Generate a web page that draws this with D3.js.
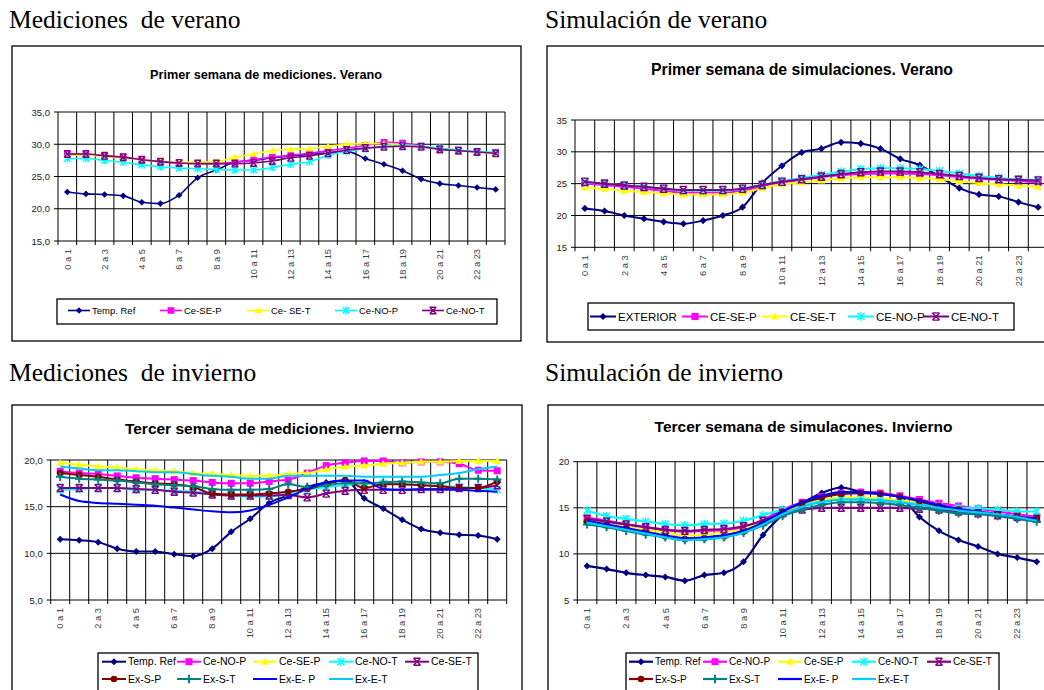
<!DOCTYPE html>
<html><head><meta charset="utf-8">
<script src="https://cdn.jsdelivr.net/npm/d3@7"></script>
<style>body{margin:0;background:#fff}svg{display:block}</style>
</head><body>
<svg id="c" width="1044" height="690"></svg>
<script>
// ---------- DATA ----------
const hours = ["0 a 1","1 a 2","2 a 3","3 a 4","4 a 5","5 a 6","6 a 7","7 a 8","8 a 9","9 a 10","10 a 11","11 a 12",
  "12 a 13","13 a 14","14 a 15","15 a 16","16 a 17","17 a 18","18 a 19","19 a 20","20 a 21","21 a 22","22 a 23","23 a 24"];
const shownHours = hours.filter((h, i) => i % 2 === 0);

const headers = ["Mediciones  de verano", "Simulación de verano", "Mediciones  de invierno", "Simulación de invierno"];
const titles = ["Primer semana de mediciones. Verano", "Primer semana de simulaciones. Verano",
  "Tercer semana de mediciones. Invierno", "Tercer semana de simulacones. Invierno"];

const ticksVerano = [15, 20, 25, 30, 35];
const ticksInvierno = [5, 10, 15, 20];

// Panel 1: mediciones verano
const p1Names = ["Temp. Ref", "Ce-SE-P", "Ce- SE-T", "Ce-NO-P", "Ce-NO-T"];
const p1TempRef = [22.6,22.3,22.2,22.0,21.0,20.8,22.1,24.8,26.0,27.2,27.5,27.9,28.2,28.4,28.7,28.9,27.8,26.9,25.9,24.6,23.9,23.6,23.3,23.0];
const p1CeSEP   = [28.5,28.4,28.2,28.0,27.6,27.3,27.1,27.0,27.0,27.2,27.6,28.0,28.3,28.6,29.0,29.4,29.8,30.3,30.2,29.7,29.3,29.1,28.8,28.6];
const p1CeSET   = [28.3,28.3,28.1,27.9,27.6,27.3,27.2,27.2,27.3,28.0,28.5,29.0,29.2,29.3,29.7,30.0,30.1,30.1,29.9,29.7,29.4,29.1,28.8,28.5];
const p1CeNOP   = [27.8,27.8,27.5,27.2,26.8,26.5,26.3,26.2,26.1,26.0,26.0,26.4,26.9,27.3,28.3,28.9,29.3,29.7,29.8,29.7,29.4,29.1,28.9,28.7];
const p1CeNOT   = [28.5,28.5,28.2,28.0,27.6,27.3,27.1,27.0,27.0,27.0,27.1,27.4,27.9,28.2,28.6,29.1,29.4,29.6,29.7,29.6,29.2,29.0,28.8,28.6];

// Panel 2: simulación verano
const p2Names = ["EXTERIOR", "CE-SE-P", "CE-SE-T", "CE-NO-P", "CE-NO-T"];
const p2Exterior = [21.1,20.7,20.0,19.5,19.0,18.7,19.2,20.0,21.3,25.1,27.8,29.9,30.5,31.5,31.3,30.5,28.9,27.9,26.1,24.3,23.3,23.0,22.1,21.3];
const p2CeSEP    = [25.0,24.8,24.5,24.2,23.9,23.6,23.6,23.6,23.9,24.6,25.2,25.6,26.0,26.3,26.5,26.6,26.6,26.5,26.3,26.0,25.8,25.6,25.4,25.2];
const p2CeSET    = [24.4,24.2,23.9,23.7,23.5,23.3,23.3,23.3,23.6,24.3,24.9,25.2,25.5,25.8,26.0,26.0,26.0,25.9,25.7,25.4,25.1,24.9,24.7,24.5];
const p2CeNOP    = [25.2,25.0,24.7,24.5,24.2,23.9,23.9,23.9,24.2,24.8,25.4,25.9,26.4,26.9,27.3,27.4,27.4,27.3,27.0,26.6,26.2,25.9,25.7,25.6];
const p2CeNOT    = [25.3,25.0,24.7,24.5,24.2,24.0,24.0,24.0,24.2,24.8,25.3,25.7,26.1,26.5,26.8,26.9,26.9,26.8,26.5,26.2,25.9,25.7,25.6,25.5];

// Panel 3: mediciones invierno
const p3Names = ["Temp. Ref", "Ce-NO-P", "Ce-SE-P", "Ce-NO-T", "Ce-SE-T", "Ex-S-P", "Ex-S-T", "Ex-E- P", "Ex-E-T"];
const p3TempRef = [11.5,11.4,11.2,10.5,10.2,10.2,9.9,9.7,10.5,12.3,13.7,15.4,16.2,17.1,17.6,17.8,15.9,14.8,13.6,12.6,12.2,12.0,11.9,11.5];
const p3CeNOP   = [18.8,18.6,18.5,18.3,18.1,18.0,17.9,17.8,17.6,17.5,17.5,17.7,17.9,18.6,19.4,19.7,19.9,19.9,19.7,19.8,19.8,19.6,18.9,18.85];
const p3CeSEP   = [19.7,19.5,19.3,19.2,19.0,18.9,18.8,18.6,18.5,18.4,18.3,18.3,18.5,18.6,19.0,19.3,19.4,19.6,19.7,19.8,19.8,19.9,19.9,19.9];
const p3CeNOT   = [16.8,16.9,17.0,17.0,16.8,16.8,16.7,16.6,16.4,16.2,16.1,16.1,16.4,16.8,17.1,17.3,17.5,17.5,17.4,17.3,17.2,17.1,17.0,16.8];
const p3CeSET   = [17.0,17.0,17.0,17.0,16.9,16.8,16.6,16.5,16.3,16.2,16.2,16.2,16.25,16.0,16.4,16.7,16.8,16.8,16.8,16.9,16.9,17.0,17.0,17.3];
const p3ExSP    = [18.6,18.4,18.2,17.9,17.7,17.5,17.4,17.1,16.4,16.3,16.3,16.4,16.6,16.9,17.4,17.85,17.0,17.4,17.4,17.3,17.2,17.0,17.0,17.7];
const p3ExST    = [18.2,18.0,17.9,17.8,17.6,17.4,17.3,17.2,16.9,16.8,16.8,16.9,17.4,17.1,17.3,17.5,17.5,17.6,17.7,17.6,17.5,18.0,18.0,17.9];
const p3ExEP    = [16.3,15.6,15.4,15.3,15.2,15.1,14.9,14.7,14.5,14.4,14.6,15.2,16.0,16.9,17.6,17.8,17.8,16.9,16.8,16.8,16.8,16.8,16.7,16.6];
const p3ExET    = [19.3,19.1,18.9,18.9,18.8,18.7,18.7,18.5,18.3,18.2,18.0,18.0,18.3,18.3,18.3,18.3,18.2,18.2,18.2,18.2,18.4,18.6,19.0,19.3];

// Panel 4: simulación invierno
const p4Names = ["Temp. Ref", "Ce-NO-P", "Ce-SE-P", "Ce-NO-T", "Ce-SE-T", "Ex-S-P", "Ex-S-T", "Ex-E- P", "Ex-E-T"];
const p4TempRef = [8.7,8.35,7.95,7.7,7.5,7.1,7.7,7.95,9.15,12.05,14.2,15.5,16.6,17.2,16.75,16.6,16.2,14.0,12.5,11.5,10.8,10.0,9.6,9.15];
const p4CeNOP   = [13.9,13.6,13.2,12.9,12.6,12.4,12.5,12.6,12.9,13.7,14.8,15.6,16.2,16.6,16.7,16.6,16.3,15.9,15.5,15.2,14.9,14.6,14.3,14.0];
const p4CeSEP   = [13.6,13.3,12.9,12.6,12.3,12.0,12.1,12.3,12.7,13.5,14.5,15.3,15.8,16.1,16.1,16.0,15.8,15.5,15.2,14.9,14.6,14.3,14.0,13.8];
const p4CeNOT   = [14.7,14.1,13.8,13.5,13.25,13.1,13.25,13.3,13.6,14.2,14.8,15.3,15.7,15.9,15.9,15.8,15.6,15.4,15.2,15.0,14.95,14.8,14.6,14.6];
const p4CeSET   = [13.8,13.5,13.2,12.9,12.6,12.5,12.6,12.7,13.0,13.6,14.4,14.8,15.0,15.0,15.0,15.0,15.0,14.9,14.8,14.6,14.4,14.2,14.0,13.8];
const p4ExSP    = [13.5,13.1,12.7,12.3,11.9,11.6,11.7,11.9,12.4,13.3,14.6,15.5,16.1,16.5,16.6,16.5,16.2,15.7,15.2,14.8,14.5,14.3,14.0,13.8];
const p4ExST    = [13.2,12.9,12.5,12.1,11.8,11.5,11.6,11.8,12.3,13.1,14.1,14.8,15.3,15.6,15.6,15.5,15.3,15.0,14.7,14.4,14.3,14.1,13.8,13.5];
const p4ExEP    = [13.6,13.2,12.8,12.4,12.0,11.7,11.8,12.0,12.5,13.4,14.6,15.6,16.3,16.7,16.7,16.5,16.2,15.8,15.3,14.9,14.6,14.3,14.0,13.8];
const p4ExET    = [13.4,13.0,12.6,12.2,11.8,11.5,11.6,11.8,12.3,13.2,14.3,15.1,15.6,15.9,15.9,15.8,15.6,15.3,15.0,14.7,14.5,14.3,14.0,13.6];

// ---------- STYLES ----------
const st5 = [
  {color:"#000080", marker:"diamond"},
  {color:"#FF00FF", marker:"square"},
  {color:"#FFFF00", marker:"triangle"},
  {color:"#00FFFF", marker:"star"},
  {color:"#800080", marker:"xbar"}
];
const st9 = [
  {color:"#000080", marker:"diamond"},
  {color:"#FF00FF", marker:"square"},
  {color:"#FFFF00", marker:"triangle"},
  {color:"#00FFFF", marker:"star"},
  {color:"#800080", marker:"xbar"},
  {color:"#800000", marker:"circle"},
  {color:"#008080", marker:"plus"},
  {color:"#0000FF", marker:null},
  {color:"#00CCFF", marker:null}
];

const panels = [
  { box:[12,46,509,295], plot:[58,505,112,241], domain:[15,35], ticks:ticksVerano, fmt:d=>d.toFixed(1).replace(".",","),
    title:titles[0], titleX:266, titleY:78.5, titleSize:12.7, header:headers[0], hx:9, hy:28,
    names:p1Names, series:[p1TempRef,p1CeSEP,p1CeSET,p1CeNOP,p1CeNOT], styles:st5, lw:1.6, ms:3.3,
    legendBox:[57,299,440,25], legendFont:9.5, legendItems:[[68,310.5],[160,310.5],[247,310.5],[335,310.5],[422,310.5]], legLine:22 },
  { box:[547,46,520,296], plot:[575,1048,120,247.3], domain:[15,35], ticks:ticksVerano, fmt:d=>String(d),
    title:titles[1], titleX:802, titleY:75, titleSize:15.8, header:headers[1], hx:545, hy:28,
    names:p2Names, series:[p2Exterior,p2CeSEP,p2CeSET,p2CeNOP,p2CeNOT], styles:st5, lw:2, ms:3.6,
    legendBox:[588,303,426,27], legendFont:11.5, legendItems:[[590,316.5],[682,316.5],[762,316.5],[848,316.5],[923,316.5]], legLine:26 },
  { box:[12,405,510,300], plot:[50.7,506.7,460,600], domain:[5,20], ticks:ticksInvierno, fmt:d=>d.toFixed(1).replace(".",","),
    title:titles[2], titleX:269.5, titleY:434, titleSize:15.5, header:headers[2], hx:9, hy:381,
    names:p3Names, series:[p3TempRef,p3CeNOP,p3CeSEP,p3CeNOT,p3CeSET,p3ExSP,p3ExST,p3ExEP,p3ExET], styles:st9, lw:2, ms:3.5,
    legendBox:[98,653,380,38], legendFont:10.5,
    legendItems:[[102,661.7],[177,661.7],[253,661.7],[329,661.7],[405,661.7],[102,679],[177,679],[253,679],[329,679]], legLine:24 },
  { box:[548,405,520,300], plot:[577.3,1046.5,461.7,600], domain:[5,20], ticks:ticksInvierno, fmt:d=>String(d),
    title:titles[3], titleX:803.5, titleY:432, titleSize:15.5, header:headers[3], hx:545, hy:381,
    names:p4Names, series:[p4TempRef,p4CeNOP,p4CeSEP,p4CeNOT,p4CeSET,p4ExSP,p4ExST,p4ExEP,p4ExET], styles:st9, lw:2.2, ms:3.5,
    legendBox:[626,653,373,38], legendFont:10,
    legendItems:[[629,661.7],[703,661.7],[778,661.7],[852,661.7],[927,661.7],[629,679],[703,679],[778,679],[852,679]], legLine:24 }
];

const svg = d3.select("#c");
const SANS = "'Liberation Sans', Arial, sans-serif";
const SERIF = "'Liberation Serif', 'Times New Roman', serif";

function drawMarker(g, type, color, s, x, y) {
  if (!type) return;
  const t = `translate(${x},${y})`;
  if (type === "diamond") g.append("path").attr("transform", t).attr("d", `M0,${-s}L${s},0L0,${s}L${-s},0Z`).attr("fill", color);
  else if (type === "square") g.append("path").attr("transform", t).attr("d", `M${-s},${-s}h${2*s}v${2*s}h${-2*s}Z`).attr("fill", color);
  else if (type === "triangle") g.append("path").attr("transform", t).attr("d", `M0,${-s*1.1}L${s*1.1},${s*0.85}L${-s*1.1},${s*0.85}Z`).attr("fill", color);
  else if (type === "circle") g.append("circle").attr("cx", x).attr("cy", y).attr("r", s*0.95).attr("fill", color);
  else if (type === "star") g.append("path").attr("transform", t).attr("d", `M${-s},${-s}L${s},${s}M${-s},${s}L${s},${-s}M0,${-s*1.2}L0,${s*1.2}`).attr("stroke", color).attr("stroke-width", 1.4).attr("fill","none");
  else if (type === "xbar") g.append("path").attr("transform", t).attr("d", `M${-s},${-s}L${s},${s}M${-s},${s}L${s},${-s}M${-s},${-s}H${s}M${-s},${s}H${s}`).attr("stroke", color).attr("stroke-width", 1.4).attr("fill","none");
  else if (type === "plus") g.append("path").attr("transform", t).attr("d", `M${-s*1.2},0H${s*1.2}M0,${-s*1.2}V${s*1.2}`).attr("stroke", color).attr("stroke-width", 2).attr("fill","none");
}

panels.forEach(p => {
  // section header
  svg.append("text").attr("x", p.hx).attr("y", p.hy).attr("font-family", SERIF).attr("font-size", 25.5)
    .style("white-space", "pre").attr("fill", "#000").text(p.header);
  // outer box
  svg.append("rect").attr("x", p.box[0]).attr("y", p.box[1]).attr("width", p.box[2]).attr("height", p.box[3])
    .attr("fill", "#fff").attr("stroke", "#000").attr("stroke-width", 1.3);
  // title
  svg.append("text").attr("x", p.titleX).attr("y", p.titleY).attr("text-anchor", "middle")
    .attr("font-family", SANS).attr("font-weight", "bold").attr("font-size", p.titleSize).text(p.title);

  const x = d3.scaleBand().domain(hours).range([p.plot[0], p.plot[1]]).paddingInner(0).paddingOuter(0);
  const y = d3.scaleLinear().domain(p.domain).range([p.plot[3], p.plot[2]]);
  const g = svg.append("g");

  // grid
  const bounds = hours.map(h => x(h)).concat([p.plot[1]]);
  g.selectAll(null).data(bounds).join("line")
    .attr("x1", d => d).attr("x2", d => d).attr("y1", p.plot[2]).attr("y2", p.plot[3] + 4)
    .attr("stroke", "#000").attr("stroke-width", 1);
  g.selectAll(null).data(p.ticks).join("line")
    .attr("x1", p.plot[0] - 4).attr("x2", p.plot[1]).attr("y1", d => y(d)).attr("y2", d => y(d))
    .attr("stroke", "#000").attr("stroke-width", 1);
  // y labels
  const yAxis = d3.axisLeft(y).tickValues(p.ticks).tickFormat(p.fmt).tickSize(0).tickPadding(8);
  const ya = g.append("g").attr("transform", `translate(${p.plot[0]},0)`).call(yAxis);
  ya.select(".domain").remove();
  ya.selectAll("text").attr("font-family", SANS).attr("font-size", 9.5).attr("fill", "#222");
  // x labels
  const xAxis = d3.axisBottom(x).tickValues(shownHours).tickSize(0).tickPadding(0);
  const xa = g.append("g").attr("transform", `translate(0,${p.plot[3]})`).call(xAxis);
  xa.select(".domain").remove();
  xa.selectAll("text").attr("font-family", SANS).attr("font-size", 9.3).attr("fill", "#444")
    .attr("text-anchor", "end").attr("dy", "0.35em").attr("transform", "translate(0,8) rotate(-90)").attr("x", 0).attr("y", 0);

  // series
  const line = d3.line().x((d, i) => x(hours[i]) + x.bandwidth()/2).y(d => y(d)).curve(d3.curveMonotoneX);
  p.series.forEach((vals, si) => {
    const s = p.styles[si];
    g.append("path").datum(vals).attr("d", line).attr("fill", "none").attr("stroke", s.color).attr("stroke-width", p.lw);
    vals.forEach((v, i) => drawMarker(g, s.marker, s.color, p.ms, x(hours[i]) + x.bandwidth()/2, y(v)));
  });

  // legend
  svg.append("rect").attr("x", p.legendBox[0]).attr("y", p.legendBox[1]).attr("width", p.legendBox[2]).attr("height", p.legendBox[3])
    .attr("fill", "#fff").attr("stroke", "#000").attr("stroke-width", 1.3);
  p.names.forEach((n, i) => {
    const [lx, ly] = p.legendItems[i];
    const s = p.styles[i];
    svg.append("line").attr("x1", lx).attr("x2", lx + p.legLine).attr("y1", ly).attr("y2", ly)
      .attr("stroke", s.color).attr("stroke-width", p.lw);
    drawMarker(svg, s.marker, s.color, p.ms, lx + p.legLine/2, ly);
    svg.append("text").attr("x", lx + p.legLine + 2).attr("y", ly).attr("dy", "0.35em")
      .attr("font-family", SANS).attr("font-size", p.legendFont).attr("fill", "#000").style("white-space", "pre").text(n);
  });
});
</script>
</body></html>
